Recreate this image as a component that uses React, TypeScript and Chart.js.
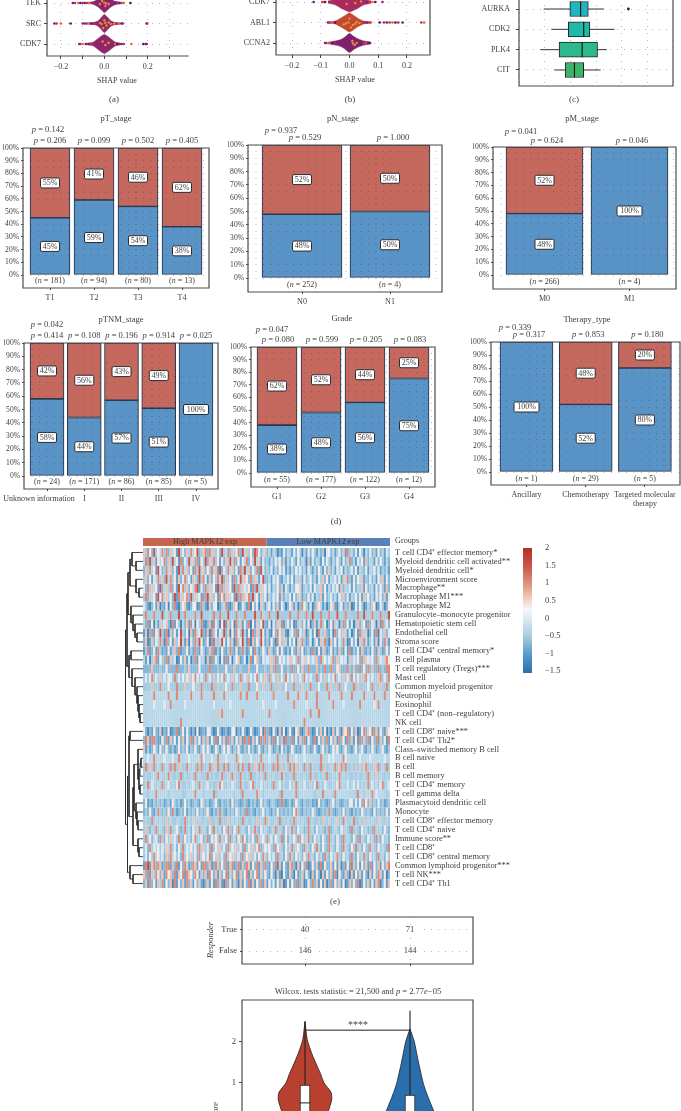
import React, { useEffect, useRef } from 'react';
import { Chart, registerables } from 'chart.js';
Chart.register(...registerables);

/* ---------- data ---------- */
const shapTicksNote = 'SHAP value';
const aGenes = ['TEK', 'SRC', 'CDK7'];
const bGenes = ['CDK7', 'ABL1', 'CCNA2'];
const bodyX = [-0.075, -0.05, -0.03, -0.015, 0, 0.015, 0.03, 0.05, 0.075];
const aBody = [
  [0.03, 0.07, 0.18, 0.32, 0.46, 0.34, 0.2, 0.08, 0.03],
  [0.02, 0.05, 0.12, 0.28, 0.44, 0.3, 0.13, 0.05, 0.02],
  [0.04, 0.1, 0.26, 0.38, 0.46, 0.38, 0.26, 0.1, 0.03],
];
const bBody = [
  [0.05, 0.14, 0.3, 0.4, 0.48, 0.4, 0.3, 0.14, 0.05],
  [0.02, 0.07, 0.22, 0.34, 0.46, 0.34, 0.2, 0.07, 0.02],
  [0.04, 0.1, 0.17, 0.3, 0.46, 0.32, 0.2, 0.1, 0.04],
];
const aTails = [
  [-0.145, -0.135, -0.12, -0.11, -0.1, -0.09, -0.08, -0.07, 0.055, 0.06, 0.07, 0.08, 0.09, 0.12],
  [-0.23, -0.22, -0.2, -0.155, -0.1, -0.09, -0.08, -0.07, -0.06, -0.05, 0.05, 0.06, 0.07, 0.08, 0.085, 0.195, 0.198],
  [-0.115, -0.11, -0.1, -0.085, -0.08, -0.07, -0.06, 0.05, 0.06, 0.07, 0.08, 0.09, 0.125, 0.18, 0.19, 0.195],
];
const bTails = [
  [-0.125, -0.095, -0.09, -0.085, -0.07, 0.06, 0.07, 0.08, 0.09, 0.115],
  [-0.075, -0.07, -0.06, -0.05, 0.05, 0.06, 0.07, 0.075, 0.105, 0.12, 0.13, 0.14, 0.15, 0.16, 0.17, 0.185, 0.25, 0.26],
  [-0.085, -0.08, -0.07, -0.06, -0.05, 0.04, 0.05, 0.06, 0.065],
];
const aHot = [
  [[-0.01, -0.1], [0.005, 0.15], [0.012, -0.2], [0.02, 0.05], [-0.02, 0.05], [0, -0.02], [0.008, 0.02]],
  [[-0.012, 0.02], [0, -0.16], [0.01, 0.1], [0.02, -0.05], [-0.005, 0.22], [0.03, 0.02], [0.045, 0], [-0.02, -0.02], [0.004, -0.04]],
  [[0.005, 0.05], [0.02, -0.06], [-0.008, -0.12]],
];
const bHot = [
  [[0.02, 0.05], [0.04, -0.03], [-0.01, 0.1]],
  [[-0.012, 0.05], [0, -0.18], [0.012, 0.12], [0.025, -0.03], [-0.02, 0.1], [0.035, 0.03], [0.005, 0.24], [-0.004, 0], [0.02, 0.06]],
  [[0.01, -0.1], [0.018, 0.1], [0.025, 0], [0.012, 0.02]],
];

const boxGenes = ['AURKA', 'CDK2', 'PLK4', 'CIT'];
const boxQ1 = [33, 32, 26, 30];
const boxMedian = [40, 42, 41, 36];
const boxQ3 = [45, 46, 51, 42];
const boxLow = [16, 21, 14, 23];
const boxHigh = [55, 62, 57, 53];
const boxOutliers = [{ x: 71, y: 0 }];

const pTLabels = ['T1', 'T2', 'T3', 'T4'];
const pTBlue = [45, 59, 54, 38];
const pTRed = [55, 41, 46, 62];
const pTN = [181, 94, 80, 13];
const pTP = ['0.206', '0.099', '0.502', '0.405'];
const pNLabels = ['N0', 'N1'];
const pNBlue = [48, 50];
const pNRed = [52, 50];
const pNN = [252, 4];
const pNP = ['0.529', '1.000'];
const pMLabels = ['M0', 'M1'];
const pMBlue = [48, 100];
const pMRed = [52, 0];
const pMN = [266, 4];
const pMP = ['0.624', '0.046'];
const tnmLabels = ['Unknown information', 'I', 'II', 'III', 'IV'];
const tnmBlue = [58, 44, 57, 51, 100];
const tnmRed = [42, 56, 43, 49, 0];
const tnmN = [24, 171, 86, 85, 5];
const tnmP = ['0.414', '0.108', '0.196', '0.914', '0.025'];
const gradeLabels = ['G1', 'G2', 'G3', 'G4'];
const gradeBlue = [38, 48, 56, 75];
const gradeRed = [62, 52, 44, 25];
const gradeN = [55, 177, 122, 12];
const gradeP = ['0.080', '0.599', '0.205', '0.083'];
const therapyLabels = ['Ancillary', 'Chemotherapy', ['Targeted molecular', 'therapy']];
const therapyBlue = [100, 52, 80];
const therapyRed = [0, 48, 20];
const therapyN = [1, 29, 5];
const therapyP = ['0.317', '0.853', '0.180'];

const heatLabels = [
  'T cell CD4⁺ effector memory*', 'Myeloid dendritic cell activated**', 'Myeloid dendritic cell*', 'Microenvironment score',
  'Macrophage**', 'Macrophage M1***', 'Macrophage M2', 'Granulocyte–monocyte progenitor', 'Hematopoietic stem cell',
  'Endothelial cell', 'Stroma score', 'T cell CD4⁺ central memory*', 'B cell plasma', 'T cell regulatory (Tregs)***',
  'Mast cell', 'Common myeloid progenitor', 'Neutrophil', 'Eosinophil', 'T cell CD4⁺ (non–regulatory)', 'NK cell',
  'T cell CD8⁺ naive***', 'T cell CD4⁺ Th2*', 'Class–switched memory B cell', 'B cell naive', 'B cell', 'B cell memory',
  'T cell CD4⁺ memory', 'T cell gamma delta', 'Plasmacytoid dendritic cell', 'Monocyte', 'T cell CD8⁺ effector memory',
  'T cell CD4⁺ naive', 'Immune score**', 'T cell CD8⁺', 'T cell CD8⁺ central memory', 'Common lymphoid progenitor***',
  'T cell NK***', 'T cell CD4⁺ Th1',
];
const heatRows = [
  '7385293648 3827461935 2738469237 8284736293 4827358294 7362985247 2414302152 4315263041 5263142305 6241352718 3425163042 5231624153',
  '4829371645 8273946182 5394728163 9274836152 7394826154 8263947152 3142536271 4253162430 7152431625 3142631524 8241536172 4315263142',
  '2738461952 3847261938 4726183947 2638471925 3847261839 4726381952 3251426351 3142635241 5314263152 7241536142 3526143251 4362513241',
  '3726154837 2948361725 8361742938 5172638492 7361825947 6283741592 2415362143 5261437152 3624153726 1435261748 3152647132 5241637152',
  '5283746192 4738261958 3726489152 8374619283 7461928375 4618293746 2514362715 3142657134 2516347261 4253617243 5162437162 3415263172',
  '3827461958 4736291847 5829374618 2947361858 3746192837 5829461736 1425361724 3516247132 6251437162 3524163725 1436251736 2415362715',
  '5310251702 1605281036 7102560183 1072560134 8102760153 1806250731 4615271630 2571402863 1502764130 2571046132 7015263014 2760153026',
  '3833383339 3438333933 8333383393 3343833833 3933383338 3333933843 3833393333 3833383338 3393338333 8333933383 3333833933 3833383339',
  '4281604173 5720816304 2718506381 0271853069 1726083715 2806173592 1605274813 5260137251 6027148350 2617403826 1503724618 2540718362',
  '1702816493 1807261593 2607184592 1708361549 2706185394 1608273951 4106285371 0462815370 2516084372 1508263741 5026183740 2618053725',
  '2701725483 0826173594 1705283961 2608173495 1627083594 1807263951 3162085374 1526074831 2503617482 0726153840 1625073841 3517062841',
  '1381261831 2161372812 2613182163 1272813162 1382161283 1261831263 1731261621 3162172612 3182161731 2613172161 8132617213 1621731262',
  '4150378163 2817350162 7150281634 0718253061 8150367125 0381672154 5473826453 5746382574 6354728463 5482736451 7354628375 4628354786',
  '2222722232 2622228222 3272222622 2282223222 6222722322 2722262223 2272822622 3282262722 8222723282 2822672228 3272282628 2722823288',
  '3535835373 5355383536 3573585353 8353735358 3537353835 7353583537 3835373538 5353735385 3533835373 5358353735 3853537385 3533783538',
  '3333733383 3363338333 7333633383 3338337333 6338333733 3833363373 3383337336 3338333733 3833363338 3733383363 3383733336 3833373383',
  '4444484444 4484448444 4448444484 4444844448 4444444844 8444484444 4448444444 8444484448 4444844444 8444448444 4844444844 4484444844',
  '4444454444 5448444444 5444444444 4444544444 4454444444 4444444454 4444544444 4448444445 4444844444 4484444544 4444484444 4454844444',
  '4444444444 4444444444 4444444444 4444447484 4444444484 4444444444 4844444444 4444444444 4844484444 4444444444 4444444444 4444444444',
  '4444444444 4444444484 4444444444 4444444444 4444444444 4444444444 4444444444 4444444484 4444444444 4444444444 4444444444 4444444444',
  '6202162170 2160128126 1520206012 1652016201 2016502162 0162012608 2106207160 2610671027 8201627160 2071620768 1627016827 6187162176',
  '2871882116 2817261627 1628172617 2716281627 1827162718 2817261828 2718162718 2281617281 6218162728 1627182618 2716182728 1628172618',
  '7131263162 2621312623 2613262136 2631263136 2631326213 2623126213 2631231623 1263121362 3126213623 1263621362 2136236213 2631236213',
  '4454484444 5444544844 4454444485 4445448444 5444484544 4454444844 4544484444 8444544454 4444448444 5454444854 4444454444 5444444544',
  '3837383438 3438383743 3843438383 3483748338 3834338483 3833748383 3438383734 3838734383 3843438373 3438378383 3437343783 3373834383',
  '3433443843 3484334383 4334383433 3843433483 3438433843 4383343438 3434334843 3438343343 3843343438 3343483434 3343433438 3437343343',
  '3483543438 3453435843 3434533843 4534334853 3435433843 3458343534 3438345343 3534834353 3435834354 3343583435 3453534348 3534358345',
  '4434448444 4434444443 3444484443 4444834444 4444344384 4444484434 4444443844 4444834444 4443444844 4438444444 4443844344 4845444434',
  '2612132323 1231632312 6231232163 2312362132 2316232123 2132312623 2133212821 2312632132 2312162321 2362321232 5625262862 7232623123',
  '2326213832 3262831232 6132326232 3621323832 1323263232 8232132362 3213262323 2326832132 3263212323 8321232623 2132326323 2162323262',
  '3433834343 3734334433 8343473433 4373343833 3734343383 4334373438 3433438343 4338343433 8343343743 4334733843 3483343734 3433743343',
  '3732438343 2738346323 8342634834 3263843426 3832638343 2634832634 3234834326 3483263423 8342634323 8234326343 2834326342 3284342632',
  '3836245283 2637453832 6342583462 3825463843 6283426385 2436283463 8352643826 2436382634 8326342632 8342632834 3263284326 3428326342',
  '3528354635 3748352638 3546352874 3528364735 2836473528 3647358236 4632864326 3483463284 3263842632 8432632843 2638342632 8432634328',
  '3526384635 2738463528 3647352846 3582647352 8364735283 6473526384 2635283426 3842634263 8342634283 2634832634 2832634832 6342834263',
  '1891782871 2881728162 8712871618 8271287262 8178128172 8716281728 2162807162 1782071628 0162718162 2716170216 8172616271 8162716278',
  '7281738627 1867281768 1876286172 7186271726 8172681726 8172681726 2162071062 1720612716 2071620716 2718062172 0716271620 7162871602',
  '2718261738 1627081627 1827162710 2716182710 8261720716 2817162817 1625162701 6162812701 6282716170 2816271601 7262801627 1617802617',
];
const heatLevels = [-1.25, -0.95, -0.72, -0.52, -0.36, 0, 0.35, 0.65, 1.05, 1.55];
const colourbarTicks = [2, 1.5, 1, 0.5, 0, -0.5, -1, -1.5];
/* dendrogram merges: height, child, child (>=0 row, <0 merge number) */
const dendroMerges = [
  [7, 1, 2], [11, 0, -1], [4, 4, 5], [7, 3, -3], [13, -2, -4], [6, 9, 10], [8, 8, -6], [10, 7, -7], [12, 6, -8], [15, -5, -9],
  [12, 11, 12], [3, 18, 19], [4, 17, -12], [5, 16, -13], [6, 15, -14], [8, 14, -15], [11, 13, -16], [14, -11, -17], [16, -10, -18],
  [13, 20, 21], [2, 23, 24], [3, 25, -21], [3, 26, 27], [4, -22, -23], [5, 22, -24], [5, 30, 31], [6, 29, -26], [7, 28, -27],
  [9, -25, -28], [4, 33, 34], [5, 32, -30], [10, -29, -31], [14, -20, -32], [10, 36, 37], [13, 35, -34], [15.5, -33, -35], [17.5, -19, -36],
];

const responderRows = ['True', 'False'];
const responderHigh = [40, 146];
const responderLow = [71, 144];

const violinRedY = [2.48, 2.2, 2.0, 1.7, 1.4, 1.2, 1.0, 0.85, 0.75, 0.6, 0.45, 0.3, 0, -0.3, -0.5];
const violinRedW = [0, 0.012, 0.025, 0.065, 0.115, 0.15, 0.18, 0.225, 0.25, 0.255, 0.24, 0.22, 0.15, 0.05, 0];
const violinBlueY = [2.3, 2.0, 1.5, 1.0, 0.8, 0.6, 0.35, 0.1, -0.2, -0.5, -0.6];
const violinBlueW = [0, 0.04, 0.08, 0.125, 0.15, 0.18, 0.22, 0.26, 0.2, 0.05, 0];
const violinQ1 = [0.2, 0.1];
const violinMedian = [0.51, 0.25];
const violinQ3 = [0.94, 0.7];
const violinWhiskerTop = [2.48, 2.74];
const violinWhiskerLow = [-0.4, -0.5];
const bracketValue = 2.27;

/* ---------- helpers ---------- */
const W = 681;
const H = 1300;
const OFF = 60;
const SERIF = '"Liberation Serif", serif';
const TXT = '#3d3d3d';
const FRAME = '#4c4c4c';
const DOT = 'rgba(40,45,70,0.34)';

type Seg = [string, boolean?];
function rich(ctx: any, segs: Seg[], x: number, y: number, size: number, align = 'center', color = TXT) {
  ctx.save();
  ctx.textBaseline = 'middle';
  ctx.textAlign = 'left';
  ctx.fillStyle = color;
  let w = 0;
  const font = (it?: boolean) => `${it ? 'italic ' : ''}${size}px ${SERIF}`;
  segs.forEach((s) => { ctx.font = font(s[1]); w += ctx.measureText(s[0]).width; });
  let cx = align === 'center' ? x - w / 2 : align === 'right' ? x - w : x;
  segs.forEach((s) => { ctx.font = font(s[1]); ctx.fillText(s[0], cx, y); cx += ctx.measureText(s[0]).width; });
  ctx.restore();
}
function txt(ctx: any, s: string, x: number, y: number, size: number, align = 'center', italic = false) {
  rich(ctx, [[s, italic]], x, y, size, align);
}
function vtxt(ctx: any, s: string, x: number, y: number, size: number, italic = false, align = 'center') {
  ctx.save();
  ctx.translate(x, y);
  ctx.rotate(-Math.PI / 2);
  rich(ctx, [[s, italic]], 0, 0, size, align);
  ctx.restore();
}
const overlay = (fn: (c: any, ctx: any) => void, before = false) => ({
  id: 'overlay',
  [before ? 'beforeDatasetsDraw' : 'afterDraw']: (c: any) => {
    const ctx = c.ctx;
    ctx.save();
    ctx.translate(0, OFF);
    fn(c, ctx);
    ctx.restore();
  },
});
function frame(ctx: any, l: number, t: number, r: number, b: number, sides = 'ltrb', lw = 1.2, col = FRAME) {
  ctx.save();
  ctx.strokeStyle = col;
  ctx.lineWidth = lw;
  ctx.beginPath();
  if (sides.includes('l')) { ctx.moveTo(l, t); ctx.lineTo(l, b); }
  if (sides.includes('b')) { ctx.moveTo(l - 0.6, b); ctx.lineTo(r + 0.6, b); }
  if (sides.includes('r')) { ctx.moveTo(r, t); ctx.lineTo(r, b); }
  if (sides.includes('t')) { ctx.moveTo(l - 0.6, t); ctx.lineTo(r + 0.6, t); }
  ctx.stroke();
  ctx.restore();
}
const padFor = (l: number, t: number, r: number, b: number, yW = 0, xH = 0, rW = 0) => ({
  left: l - yW,
  top: t + OFF,
  right: W - r - rW,
  bottom: H - (b + OFF) - xH,
});
const baseOpts = (padding: any) => ({
  responsive: false,
  animation: false as const,
  events: [] as string[],
  layout: { autoPadding: false, padding },
  plugins: { legend: { display: false }, tooltip: { enabled: false } },
});
const tickFont = { family: SERIF, size: 8 };

/* ---------- shap beeswarm ---------- */
function swarmConfig(opt: {
  box: number[]; zero: number; perUnit: number; row0: number; rowH: number; genes: string[]; body: number[][]; tails: number[][];
  hot: number[][][]; colors: string[]; sides: string; xlabelX: number; xlabelY: number; tag: string; tagX: number; everyTick: boolean;
}) {
  const [l, t, r, b] = opt.box;
  const dotCols = ['#6d2182', '#c1304f', '#e0683a', '#4d1a72', '#a92668'];
  const datasets: any[] = [];
  opt.genes.forEach((g, i) => {
    const hot = opt.hot[i].map(([x, dy]) => ({ x, y: i + dy }));
    datasets.push({ type: 'scatter', data: hot, pointRadius: 1.2, pointBackgroundColor: '#ef8a3a', borderWidth: 0, pointBorderWidth: 0 });
    datasets.push({
      type: 'scatter',
      data: opt.tails[i].map((x) => ({ x, y: i })),
      pointRadius: 1.35,
      pointBorderWidth: 0,
      pointBackgroundColor: opt.tails[i].map((_, k) => dotCols[k % dotCols.length]),
    });
  });
  opt.genes.forEach((g, i) => {
    const top = bodyX.map((x, k) => ({ x, y: i - opt.body[i][k] }));
    const bot = bodyX.map((x, k) => ({ x, y: i + opt.body[i][k] })).reverse();
    datasets.push({
      type: 'line',
      data: [...top, ...bot],
      fill: 'shape',
      backgroundColor: opt.colors[i],
      borderColor: opt.colors[i],
      borderWidth: 0.5,
      pointRadius: 0,
      tension: 0.25,
    });
  });
  return {
    type: 'scatter',
    data: { datasets },
    options: {
      ...baseOpts(padFor(l, t, r, b, 46, 25)),
      scales: {
        x: {
          type: 'linear',
          min: (l - opt.zero) / opt.perUnit,
          max: (r - opt.zero) / opt.perUnit,
          afterFit: (s: any) => { s.height = 25; },
          afterBuildTicks: (s: any) => {
            const vs = opt.everyTick ? [-0.2, -0.1, 0, 0.1, 0.2] : [-0.2, -0.1, 0, 0.1, 0.2, 0.3];
            s.ticks = vs.map((value) => ({ value }));
          },
          ticks: {
            autoSkip: false, maxRotation: 0, padding: 3, color: TXT, font: tickFont,
            callback: (v: number) => {
              const k = Math.round(v * 10);
              if (!opt.everyTick && (k % 2 !== 0 || k > 2)) return '';
              return k === 0 ? '0.0' : (k < 0 ? '−' : '') + (Math.abs(k) / 10).toFixed(1);
            },
          },
          grid: { color: DOT, tickColor: '#444', tickLength: 3, drawTicks: true },
          border: { display: false, dash: [1, 6] },
        },
        y: {
          type: 'linear',
          reverse: true,
          min: (t - opt.row0) / opt.rowH,
          max: (b - opt.row0) / opt.rowH,
          afterFit: (s: any) => { s.width = 46; },
          afterBuildTicks: (s: any) => { s.ticks = opt.genes.map((_, i) => ({ value: i })); },
          ticks: { autoSkip: false, padding: 3, color: TXT, font: tickFont, callback: (v: number) => opt.genes[v] },
          grid: { color: DOT, tickColor: '#444', tickLength: 3 },
          border: { display: false, dash: [1, 6] },
        },
      },
    },
    plugins: [overlay((c, ctx) => {
      frame(ctx, l, t, r, b, opt.sides);
      txt(ctx, shapTicksNote, opt.xlabelX, opt.xlabelY, 8);
      txt(ctx, opt.tag, opt.tagX, 100, 9);
    })],
  };
}

/* ---------- box plot c ---------- */
function boxConfig() {
  const [l, t, r, b] = [519, -30, 673, 86];
  const colors = ['#1fb6bd', '#20b8a8', '#2db98c', '#3cb56c'];
  return {
    type: 'bar',
    data: {
      datasets: [
        { type: 'scatter', data: boxOutliers, pointRadius: 1.4, pointBackgroundColor: '#222', pointBorderWidth: 0 },
        {
          type: 'bar',
          data: boxGenes.map((_, i) => ({ x: [boxQ1[i], boxQ3[i]], y: i })),
          backgroundColor: colors,
          borderColor: '#222',
          borderWidth: 1,
          barThickness: 15,
          borderSkipped: false,
        },
      ],
    },
    options: {
      ...baseOpts(padFor(l, t, r, b, 46, 10)),
      indexAxis: 'y',
      scales: {
        x: {
          type: 'linear', min: 0, max: 100, afterFit: (s: any) => { s.height = 10; },
          ticks: { display: false, stepSize: 100 / 6 },
          grid: { color: DOT, tickLength: 0, z: 0 },
          border: { display: false, dash: [1, 6] },
        },
        y: {
          type: 'linear', reverse: true, offset: false, min: (t - 9) / 20.33, max: (b - 9) / 20.33,
          afterFit: (s: any) => { s.width = 46; },
          afterBuildTicks: (s: any) => { s.ticks = boxGenes.map((_, i) => ({ value: i })); },
          ticks: { autoSkip: false, padding: 6, color: TXT, font: tickFont, callback: (v: number) => boxGenes[v] },
          grid: { color: DOT, tickColor: '#444', tickLength: 3, offset: false },
          border: { display: false, dash: [1, 6] },
        },
      },
    },
    plugins: [
      overlay((c, ctx) => {
        const X = c.scales.x, Y = c.scales.y;
        ctx.strokeStyle = '#333';
        ctx.lineWidth = 1;
        boxGenes.forEach((_, i) => {
          const y = Y.getPixelForValue(i) - OFF;
          ctx.beginPath();
          ctx.moveTo(X.getPixelForValue(boxLow[i]), y); ctx.lineTo(X.getPixelForValue(boxHigh[i]), y);
          ctx.stroke();
        });
      }, true),
      {
        id: 'medians',
        afterDraw: (c: any) => {
          const ctx = c.ctx, X = c.scales.x, Y = c.scales.y;
          ctx.save();
          ctx.strokeStyle = '#1a1a1a';
          ctx.lineWidth = 1.2;
          boxGenes.forEach((_, i) => {
            const y = Y.getPixelForValue(i), x = X.getPixelForValue(boxMedian[i]);
            ctx.beginPath(); ctx.moveTo(x, y - 7.5); ctx.lineTo(x, y + 7.5); ctx.stroke();
          });
          ctx.translate(0, OFF);
          frame(ctx, l, t, r, b);
          txt(ctx, '(c)', 574, 100, 9);
          ctx.restore();
        },
      },
    ],
  };
}

/* ---------- stacked percent panels ---------- */
const yPercentSteps = [0, 5, 10, 15, 20, 25, 30, 35, 40, 45, 50, 55, 60, 65, 70, 75, 80, 85, 90, 95, 100];
function stageConfig(p: any) {
  const [l, t, r, b] = p.box;
  const unit = (p.zero - t) / 100;
  const xMin = (l - p.c0) / p.sp;
  const xMax = (r - p.c0) / p.sp;
  const xy = (arr: number[]) => arr.map((y, x) => ({ x, y }));
  return {
    type: 'bar',
    data: {
      datasets: [
        { label: 'Low', data: xy(p.blue), backgroundColor: '#5a93c5', borderColor: '#2b3950', borderWidth: 1.1, barThickness: p.barW, borderSkipped: false },
        { label: 'High', data: xy(p.red), backgroundColor: '#c5695e', borderColor: '#2b3950', borderWidth: 1.1, barThickness: p.barW, borderSkipped: false },
      ],
    },
    options: {
      ...baseOpts(padFor(l, t, r, b, 20, 30)),
      scales: {
        x: {
          type: 'linear', stacked: true, offset: false, min: xMin, max: xMax,
          afterFit: (s: any) => { s.height = 30; },
          afterBuildTicks: (s: any) => { s.ticks = p.labels.map((_: any, value: number) => ({ value })); },
          ticks: {
            autoSkip: false, maxRotation: 0, padding: p.xPad ?? 3, color: TXT, font: tickFont,
            callback: (v: number) => (p.plainFirst && v === 0 ? '' : p.labels[v]),
          },
          grid: { display: true, drawOnChartArea: false, offset: false, tickColor: '#444', tickLength: 2 },
          border: { display: false },
        },
        y: {
          type: 'linear', stacked: true, min: -(b - p.zero) / unit, max: 100,
          afterFit: (s: any) => { s.width = 20; },
          afterBuildTicks: (s: any) => { s.ticks = yPercentSteps.map((value) => ({ value })); },
          ticks: {
            autoSkip: false, padding: 2, color: TXT, font: { family: SERIF, size: 7.6 },
            callback: (v: number) => (v % 10 === 0 ? `${v}%` : ''),
          },
          grid: {
            z: 1, color: DOT, tickLength: 2,
            tickColor: (c: any) => (c.tick && c.tick.value % 10 === 0 ? '#555' : 'rgba(0,0,0,0)'),
          },
          border: { display: false, dash: [1, 6.5] },
        },
      },
    },
    plugins: [overlay((c, ctx) => {
      const X = c.scales.x, Y = c.scales.y;
      frame(ctx, l, t, r, b);
      txt(ctx, p.title, p.titleX, p.titleY, 8.5);
      rich(ctx, [['p', true], [` = ${p.allP}`]], p.allX, p.allY, 8.5);
      p.labels.forEach((_: any, i: number) => {
        const x = X.getPixelForValue(i);
        rich(ctx, [['p', true], [` = ${p.ps[i]}`]], x + (p.pDx ?? 0), p.pY, 8.5);
        rich(ctx, [['('], ['n', true], [` = ${p.n[i]})`]], x, p.nY, 8);
        const label = (v: number, mid: number) => {
          if (!v) return;
          const y = Y.getPixelForValue(mid) - OFF;
          const w = v === 100 ? 25 : 19;
          ctx.save();
          ctx.fillStyle = '#fff';
          ctx.strokeStyle = '#2c2c34';
          ctx.lineWidth = 1;
          ctx.beginPath();
          ctx.roundRect(x - w / 2, y - 5, w, 10, 1.5);
          ctx.fill();
          ctx.stroke();
          ctx.restore();
          txt(ctx, `${v}%`, x, y + 0.3, 8);
        };
        label(p.blue[i], p.blue[i] / 2);
        label(p.red[i], p.blue[i] + p.red[i] / 2);
      });
      if (p.plainFirst) txt(ctx, p.labels[0], p.firstX, p.firstY, 8);
    })],
  };
}

/* ---------- heat map ---------- */
const colorStops: [number, number[]][] = [
  [-1.5, [43, 116, 178]], [-1, [92, 156, 200]], [-0.5, [168, 206, 227]], [0, [222, 234, 241]], [0.25, [247, 247, 247]],
  [0.5, [243, 214, 203]], [1, [222, 144, 124]], [1.5, [201, 84, 70]], [2, [178, 48, 40]],
];
function colorFor(v: number) {
  for (let i = 1; i < colorStops.length; i++) {
    if (v <= colorStops[i][0]) {
      const [a, ca] = colorStops[i - 1], [b, cb] = colorStops[i];
      const f = Math.max(0, (v - a) / (b - a));
      return `rgb(${ca.map((q, k) => Math.round(q + (cb[k] - q) * f)).join(',')})`;
    }
  }
  return 'rgb(178,48,40)';
}
function heatConfig() {
  const [l, t, r, b] = [143, 548, 390, 888];
  const rows = heatRows.map((s) => s.replace(/ /g, '').split('').map((c) => heatLevels[+c]));
  const labels = rows[0].map((_, i) => String(i));
  return {
    type: 'bar',
    data: {
      labels,
      datasets: rows.map((row, i) => ({
        label: heatLabels[i],
        data: row.map(() => 1),
        backgroundColor: row.map(colorFor),
        borderWidth: 0,
        barPercentage: 1.04,
        categoryPercentage: 1,
      })),
    },
    options: {
      ...baseOpts(padFor(l, t, r, b)),
      scales: {
        x: { display: false, stacked: true },
        y: { display: false, stacked: true, reverse: true, min: 0, max: rows.length },
      },
    },
    plugins: [overlay((c, ctx) => {
      const X = c.scales.x, Y = c.scales.y;
      const split = (X.getPixelForValue(59) + X.getPixelForValue(60)) / 2;
      ctx.fillStyle = '#c5664f';
      ctx.fillRect(l, 538, split - l, 8);
      ctx.fillStyle = '#5b82b8';
      ctx.fillRect(split, 538, r - split, 8);
      txt(ctx, 'High MAPK12 exp', 205, 542, 8.2);
      txt(ctx, 'Low MAPK12 exp', 328, 542, 8.2);
      txt(ctx, 'Groups', 395, 541, 8.2, 'left');
      heatLabels.forEach((s, i) => txt(ctx, s, 395, Y.getPixelForValue(i + 0.5) - OFF, 8.4, 'left'));
      txt(ctx, '(d)', 336, 522, 9);
      txt(ctx, '(e)', 335, 902, 9);
    })],
  };
}
function dendroConfig() {
  const [l, t, r, b] = [125, 548, 143, 888];
  const datasets: any[] = [];
  const pos: { h: number; y: number }[] = [];
  const get = (k: number) => (k >= 0 ? { h: 0, y: k + 0.5 } : pos[-k - 1]);
  dendroMerges.forEach(([h, a, e]) => {
    const A = get(a), B = get(e);
    pos.push({ h, y: (A.y + B.y) / 2 });
    datasets.push({
      type: 'line',
      data: [{ x: A.h, y: A.y }, { x: h, y: A.y }, { x: h, y: B.y }, { x: B.h, y: B.y }],
      borderColor: '#2e2e2e',
      borderWidth: 0.9,
      pointRadius: 0,
      tension: 0,
    });
  });
  return {
    type: 'line',
    data: { datasets },
    options: {
      ...baseOpts(padFor(l, t, r, b)),
      scales: {
        x: { type: 'linear', display: false, reverse: true, min: 0, max: 18 },
        y: { type: 'linear', display: false, reverse: true, min: 0, max: heatLabels.length },
      },
    },
  };
}
function colourbarConfig() {
  const [l, t, r, b] = [523, 548, 532, 673];
  return {
    type: 'bar',
    data: {
      labels: [''],
      datasets: [{
        data: [[-1.557, 2]],
        barPercentage: 1,
        categoryPercentage: 1,
        borderWidth: 0,
        backgroundColor: (ctx: any) => {
          const a = ctx.chart.chartArea;
          if (!a) return '#888';
          const g = ctx.chart.ctx.createLinearGradient(0, a.bottom, 0, a.top);
          colorStops.forEach(([v]) => g.addColorStop(Math.max(0, (v + 1.557) / 3.557), colorFor(v)));
          return g;
        },
      }],
    },
    options: {
      ...baseOpts(padFor(l, t, r, b, 0, 0, 30)),
      scales: {
        x: { display: false },
        y: {
          type: 'linear', position: 'right', min: -1.557, max: 2,
          afterFit: (s: any) => { s.width = 30; },
          afterBuildTicks: (s: any) => { s.ticks = colourbarTicks.map((value) => ({ value })); },
          ticks: {
            autoSkip: false, padding: 5, color: TXT, font: { family: SERIF, size: 8.5 },
            callback: (v: number) => (v < 0 ? '−' : '') + Math.abs(v),
          },
          grid: { display: false },
          border: { display: false },
        },
      },
    },
  };
}

/* ---------- responder table ---------- */
function responderConfig() {
  const [l, t, r, b] = [242, 917, 473, 964];
  return {
    type: 'scatter',
    data: {
      datasets: [
        { label: 'High', data: responderHigh.map((_, y) => ({ x: 0, y })), pointRadius: 0 },
        { label: 'Low', data: responderLow.map((_, y) => ({ x: 1, y })), pointRadius: 0 },
      ],
    },
    options: {
      ...baseOpts(padFor(l, t, r, b, 30, 10)),
      scales: {
        x: {
          type: 'linear', min: -0.6, max: 1.6,
          afterFit: (s: any) => { s.height = 10; },
          afterBuildTicks: (s: any) => { s.ticks = [{ value: 0 }, { value: 1 }]; },
          ticks: { display: false },
          grid: { color: DOT, tickColor: '#444', tickLength: 2 },
          border: { display: false, dash: [1, 6] },
        },
        y: {
          type: 'linear', reverse: true, min: -0.619, max: 1.619,
          afterFit: (s: any) => { s.width = 30; },
          afterBuildTicks: (s: any) => { s.ticks = [{ value: 0 }, { value: 1 }]; },
          ticks: { autoSkip: false, padding: 3, color: TXT, font: { family: SERIF, size: 8.5 }, callback: (v: number) => responderRows[v] },
          grid: { color: DOT, tickColor: '#444', tickLength: 2 },
          border: { display: false, dash: [1, 6] },
        },
      },
    },
    plugins: [overlay((c, ctx) => {
      const X = c.scales.x, Y = c.scales.y;
      frame(ctx, l, t, r, b);
      vtxt(ctx, 'Responder', 211, 940, 8.5, true);
      [responderHigh, responderLow].forEach((arr, k) => arr.forEach((v, i) => {
        const x = X.getPixelForValue(k), y = Y.getPixelForValue(i) - OFF;
        ctx.fillStyle = '#fff';
        ctx.fillRect(x - 8, y - 4, 16, 8);
        txt(ctx, String(v), x, y, 8.5);
      }));
    })],
  };
}

/* ---------- violin ---------- */
function violinConfig() {
  const [l, t, r, b] = [242, 1000, 473, 1150];
  const poly = (cx: number, ys: number[], ws: number[]) => [
    ...ys.map((y, i) => ({ x: cx - ws[i], y })),
    ...ys.map((y, i) => ({ x: cx + ws[i], y })).reverse(),
  ];
  const line = (pts: any[], w = 1) => ({ type: 'line', data: pts, borderColor: '#222', borderWidth: w, pointRadius: 0, tension: 0 });
  return {
    type: 'bar',
    data: {
      datasets: [
        line([{ x: 0, y: bracketValue }, { x: 1, y: bracketValue }], 1),
        line([{ x: -0.05, y: violinMedian[0] }, { x: 0.05, y: violinMedian[0] }]),
        line([{ x: 0.95, y: violinMedian[1] }, { x: 1.05, y: violinMedian[1] }]),
        {
          type: 'bar',
          data: violinQ1.map((q, i) => ({ x: i, y: [q, violinQ3[i]] })),
          backgroundColor: '#fff',
          borderColor: '#222',
          borderWidth: 1,
          barThickness: 10,
          borderSkipped: false,
        },
        line([{ x: 0, y: violinWhiskerTop[0] }, { x: 0, y: violinWhiskerLow[0] }], 1.1),
        line([{ x: 1, y: violinWhiskerTop[1] }, { x: 1, y: violinWhiskerLow[1] }], 1.1),
        { type: 'line', data: poly(0, violinRedY, violinRedW), fill: 'shape', backgroundColor: '#b8402f', borderColor: '#3a2420', borderWidth: 0.9, pointRadius: 0, tension: 0.2 },
        { type: 'line', data: poly(1, violinBlueY, violinBlueW), fill: 'shape', backgroundColor: '#2a6fab', borderColor: '#1f2f42', borderWidth: 0.9, pointRadius: 0, tension: 0.2 },
      ],
    },
    options: {
      ...baseOpts(padFor(l, t, r, b, 30, 0)),
      scales: {
        x: { type: 'linear', offset: false, min: -0.6, max: 1.6, display: false, grid: { display: false } },
        y: {
          type: 'linear', min: -0.63, max: 3,
          afterFit: (s: any) => { s.width = 30; },
          afterBuildTicks: (s: any) => { s.ticks = [{ value: 0 }, { value: 1 }, { value: 2 }]; },
          ticks: { autoSkip: false, padding: 3, color: TXT, font: { family: SERIF, size: 8.5 }, callback: (v: number) => String(v) },
          grid: { drawOnChartArea: false, tickColor: '#444', tickLength: 3 },
          border: { display: false },
        },
      },
    },
    plugins: [overlay((c, ctx) => {
      frame(ctx, l, t, r, b);
      rich(ctx, [['Wilcox. tests statistic = 21,500 and '], ['p', true], [' = 2.77'], ['e', true], ['−05']], 358, 992, 8.5);
      txt(ctx, '****', 358, 1025, 10);
      vtxt(ctx, 'TIDE score', 216, 1102, 8.5, true, 'right');
    })],
  };
}

const configs: any[] = [
  swarmConfig({
    box: [47, -30, 188, 56], zero: 104.3, perUnit: 217, row0: 3, rowH: 20.5, genes: aGenes, body: aBody, tails: aTails, hot: aHot,
    colors: ['#8a2570', '#8f2a62', '#8e2668'], sides: 'lb', xlabelX: 117, xlabelY: 81, tag: '(a)', tagX: 114, everyTick: false,
  }),
  swarmConfig({
    box: [276, -30, 430, 55], zero: 349.5, perUnit: 287, row0: 2, rowH: 20.5, genes: bGenes, body: bBody, tails: bTails, hot: bHot,
    colors: ['#a82a5e', '#c2492f', '#80206c'], sides: 'lbr', xlabelX: 355, xlabelY: 80, tag: '(b)', tagX: 350, everyTick: true,
  }),
  boxConfig(),
  stageConfig({
    title: 'pT_stage', titleX: 116, titleY: 119, box: [23, 148, 209, 288], zero: 275, c0: 50, sp: 44, barW: 40,
    labels: pTLabels, blue: pTBlue, red: pTRed, n: pTN, ps: pTP, pY: 141, allP: '0.142', allX: 48, allY: 130, nY: 281,
  }),
  stageConfig({
    title: 'pN_stage', titleX: 343, titleY: 119, box: [248, 145, 442, 292], zero: 278, c0: 302, sp: 88, barW: 80,
    labels: pNLabels, blue: pNBlue, red: pNRed, n: pNN, ps: pNP, pY: 138, pDx: 3, allP: '0.937', allX: 281, allY: 131, nY: 285,
  }),
  stageConfig({
    title: 'pM_stage', titleX: 582, titleY: 119, box: [493, 147, 676, 289], zero: 275, c0: 544.5, sp: 85, barW: 77,
    labels: pMLabels, blue: pMBlue, red: pMRed, n: pMN, ps: pMP, pY: 141, pDx: 2.5, allP: '0.041', allX: 521, allY: 132, nY: 282,
  }),
  stageConfig({
    title: 'pTNM_stage', titleX: 121, titleY: 320, box: [24, 343, 218, 489], zero: 476, c0: 47, sp: 37.25, barW: 34,
    labels: tnmLabels, blue: tnmBlue, red: tnmRed, n: tnmN, ps: tnmP, pY: 336, allP: '0.042', allX: 47, allY: 325, nY: 482,
    plainFirst: true, firstX: 39, firstY: 499,
  }),
  stageConfig({
    title: 'Grade', titleX: 342, titleY: 319, box: [251, 347, 435, 487], zero: 473, c0: 277, sp: 44, barW: 40,
    labels: gradeLabels, blue: gradeBlue, red: gradeRed, n: gradeN, ps: gradeP, pY: 340, pDx: 1, allP: '0.047', allX: 272, allY: 330, nY: 480,
  }),
  stageConfig({
    title: 'Therapy_type', titleX: 587, titleY: 320, box: [491, 342, 680, 485], zero: 472, c0: 526.5, sp: 59.2, barW: 53,
    labels: therapyLabels, blue: therapyBlue, red: therapyRed, n: therapyN, ps: therapyP, pY: 335, pDx: 2.5, allP: '0.339', allX: 515, allY: 328, nY: 479,
  }),
  heatConfig(),
  dendroConfig(),
  colourbarConfig(),
  responderConfig(),
  violinConfig(),
];

export default function App() {
  const refs = useRef<(HTMLCanvasElement | null)[]>([]);
  useEffect(() => {
    const charts = configs.map((cfg, i) => new Chart(refs.current[i] as any, cfg));
    return () => charts.forEach((c) => c.destroy());
  }, []);
  return (
    <div style={{ position: 'absolute', left: 0, top: 0, width: W, height: 1111, overflow: 'hidden', background: '#fff', filter: 'blur(0.5px)' }}>
      {configs.map((_, i) => (
        <canvas
          key={i}
          ref={(el) => { refs.current[i] = el; }}
          width={W}
          height={H}
          style={{ position: 'absolute', left: 0, top: -OFF, width: W, height: H }}
        />
      ))}
    </div>
  );
}
